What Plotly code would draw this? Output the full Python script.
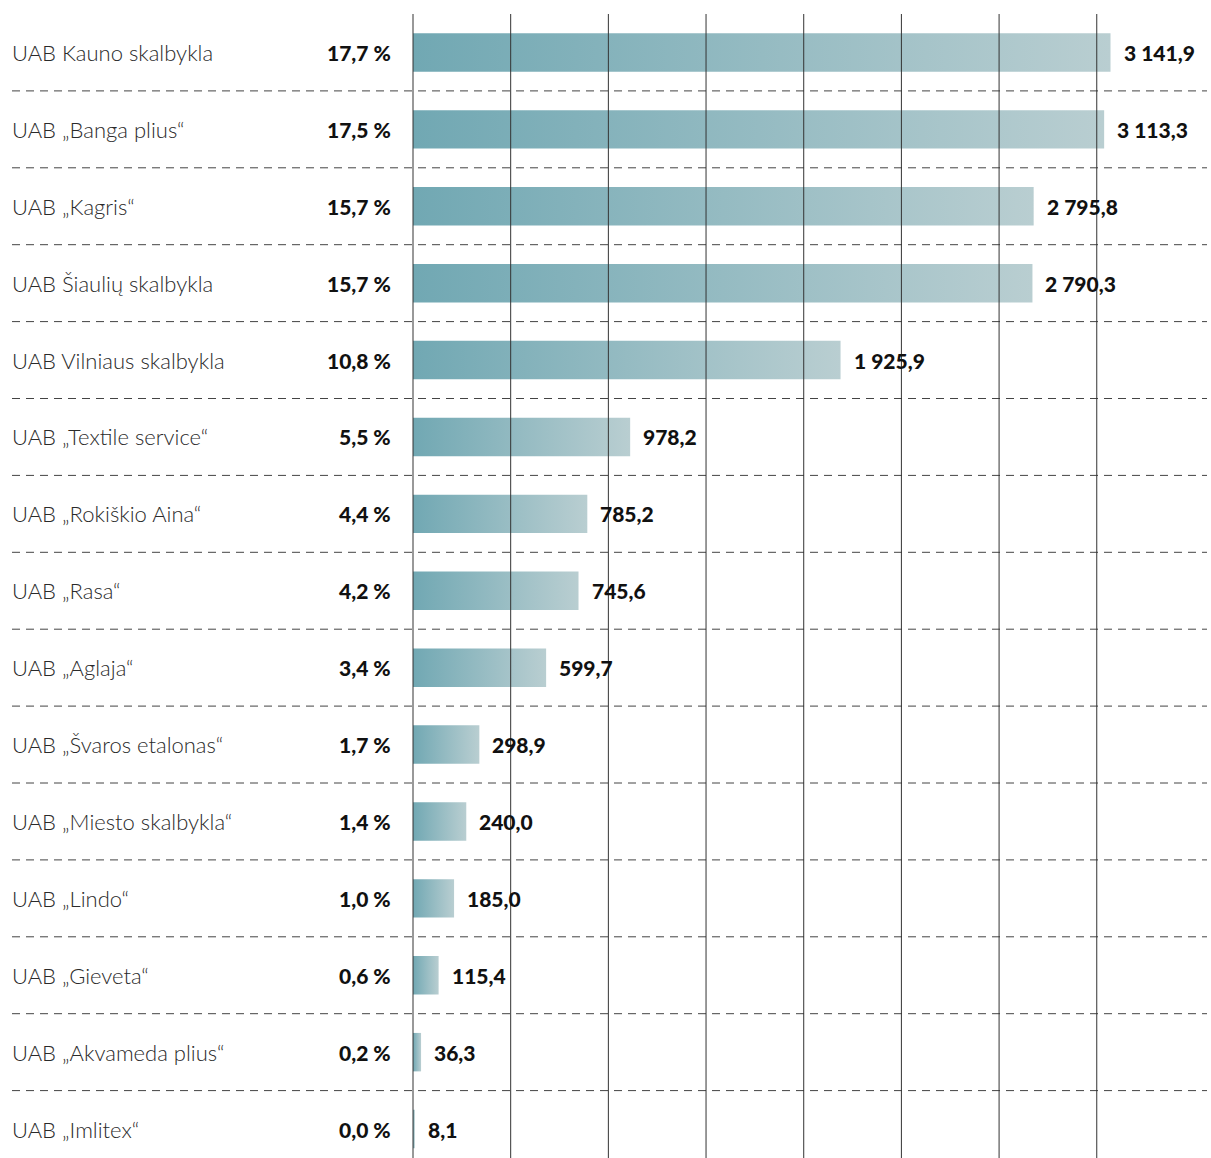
import plotly.graph_objects as go

companies = [
    "UAB Kauno skalbykla", "UAB „Banga plius“", "UAB „Kagris“", "UAB Šiaulių skalbykla",
    "UAB Vilniaus skalbykla", "UAB „Textile service“", "UAB „Rokiškio Aina“", "UAB „Rasa“",
    "UAB „Aglaja“", "UAB „Švaros etalonas“", "UAB „Miesto skalbykla“", "UAB „Lindo“",
    "UAB „Gieveta“", "UAB „Akvameda plius“", "UAB „Imlitex“",
]
values = [3141.9, 3113.3, 2795.8, 2790.3, 1925.9, 978.2, 785.2, 745.6, 599.7, 298.9,
          240.0, 185.0, 115.4, 36.3, 8.1]
shares = ["17,7 %", "17,5 %", "15,7 %", "15,7 %", "10,8 %", "5,5 %", "4,4 %", "4,2 %",
          "3,4 %", "1,7 %", "1,4 %", "1,0 %", "0,6 %", "0,2 %", "0,0 %"]
value_labels = ["3 141,9", "3 113,3", "2 795,8", "2 790,3", "1 925,9", "978,2", "785,2",
                "745,6", "599,7", "298,9", "240,0", "185,0", "115,4", "36,3", "8,1"]
grid_vals = [0, 440, 880, 1320, 1760, 2200, 2640, 3080]

W, H = 1211, 1158
TOP = 14
ZERO_PX = 413
SCALE = 0.222  # px per unit
ROW_PX = 76.9
HALF = 0.25

x_min = -ZERO_PX / SCALE
x_max = (W - ZERO_PX) / SCALE
n = len(companies)
y_max = (H - TOP) / ROW_PX - 0.5

fig = go.Figure()
for i, v in enumerate(values):
    fig.add_trace(go.Scatter(
        x=[0, v, v, 0, 0],
        y=[i - HALF, i - HALF, i + HALF, i + HALF, i - HALF],
        mode="lines", fill="toself", line=dict(width=0),
        fillgradient=dict(type="horizontal",
                          colorscale=[[0, "#71A8B3"], [1, "#B9CED1"]]),
        hoverinfo="skip", showlegend=False,
    ))

shapes = []
for i in range(n - 1):
    shapes.append(dict(type="line", xref="paper", yref="y",
                       x0=12 / W, x1=1207 / W, y0=i + 0.5, y1=i + 0.5,
                       line=dict(color="#444444", width=1, dash="8px,6px"),
                       layer="below"))
for g in grid_vals:
    shapes.append(dict(type="line", xref="x", yref="paper", x0=g, x1=g, y0=0, y1=1,
                       line=dict(color="#333333", width=1), layer="above"))

annotations = []
for i in range(n):
    annotations.append(dict(x=10 / W, xref="paper", y=i, yref="y", text=companies[i],
                            xanchor="left", showarrow=False,
                            font=dict(family="Lato", size=22, color="#2a2a2a", weight=300)))
    annotations.append(dict(x=393 / W, xref="paper", y=i, yref="y", text=shares[i],
                            xanchor="right", showarrow=False,
                            font=dict(family="Lato", size=21, color="#111111", weight=900)))
    annotations.append(dict(x=values[i], xref="x", y=i, yref="y", text=value_labels[i],
                            xanchor="left", xshift=11, showarrow=False,
                            font=dict(family="Lato", size=21, color="#111111", weight=900)))

fig.update_layout(
    width=W, height=H,
    margin=dict(l=0, r=0, t=TOP, b=0),
    paper_bgcolor="white", plot_bgcolor="white",
    xaxis=dict(range=[x_min, x_max], showgrid=False, zeroline=False,
               showticklabels=False, fixedrange=True),
    yaxis=dict(range=[y_max, -0.5], showgrid=False, zeroline=False,
               showticklabels=False, fixedrange=True),
    shapes=shapes, annotations=annotations,
)

fig.write_html("out.html", config={"displayModeBar": False},
               post_script="document.body.style.margin='0px';document.body.style.overflow='hidden';")
